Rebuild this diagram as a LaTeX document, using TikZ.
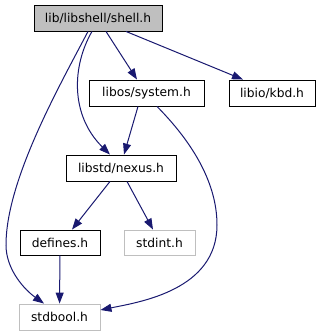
\documentclass[tikz,border=0pt]{standalone}
\usepackage{fontspec}
\setmainfont{DejaVu Sans}
\usetikzlibrary{arrows.meta}
\definecolor{edgeblue}{RGB}{25,25,112}
\definecolor{boxgray}{RGB}{191,191,191}
\definecolor{lightborder}{RGB}{191,191,191}
\begin{document}
\begin{tikzpicture}[x=1bp,y=-1bp,
  filebox/.style={draw=black,fill=white,line width=0.9bp,inner sep=0pt,
    minimum height=26bp,font=\fontsize{12.3}{12.3}\selectfont},
  curbox/.style={filebox,fill=boxgray},
  extbox/.style={filebox,draw=lightborder},
  dep/.style={draw=edgeblue,line width=1bp,
    -{Triangle[length=11bp,width=8bp,fill=edgeblue]}}]
\useasboundingbox (0,0) rectangle (321,336);
% include files
\node[curbox,minimum width=128bp] (shell) at (98,18) {lib/libshell/shell.h};
\node[filebox,minimum width=115bp] (system) at (146.5,93) {libos/system.h};
\node[filebox,minimum width=86bp] (kbd) at (272,93) {libio/kbd.h};
\node[filebox,minimum width=110bp] (nexus) at (121,168) {libstd/nexus.h};
\node[filebox,minimum width=80bp,minimum height=25bp] (defines) at (60,242.5) {defines.h};
\node[extbox,minimum width=71bp,minimum height=25bp] (stdint) at (159.5,242.5) {stdint.h};
\node[extbox,minimum width=81bp] (stdbool) at (59.5,317) {stdbool.h};
% dependency edges
\draw[dep] (shell.south -| 106,0) -- (system.north -| 137,0);
\draw[dep] (shell.south -| 126,0) -- (kbd.north -| 243,0);
\draw[dep] (shell.south -| 92,0) .. controls (72,66) and (70,115) .. (nexus.north -| 110,0);
\draw[dep] (shell.south -| 88,0) .. controls (60,85) and (6,180) .. (6,245)
  .. controls (6,270) and (25,290) .. (stdbool.north -| 44,0);
\draw[dep] (system.south -| 138,0) -- (nexus.north -| 124,0);
\draw[dep] (system.south -| 157,0) .. controls (200,150) and (217,190) .. (217,225)
  .. controls (217,290) and (140,302) .. (stdbool.east |- 0,310);
\draw[dep] (nexus.south -| 110,0) -- (defines.north -| 72,0);
\draw[dep] (nexus.south -| 127,0) -- (stdint.north -| 153,0);
\draw[dep] (defines) -- (stdbool);
\end{tikzpicture}
\end{document}
